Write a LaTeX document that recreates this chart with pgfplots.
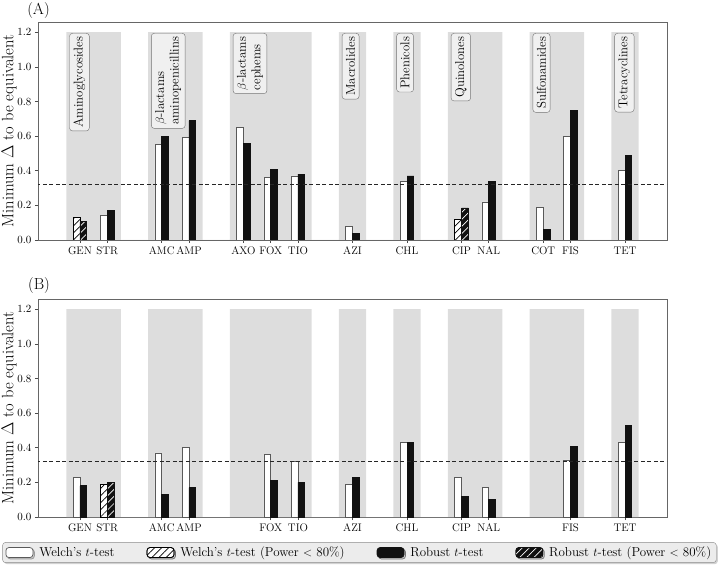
\documentclass[border=0pt]{standalone}
\usepackage{pgfplots}
\pgfplotsset{compat=1.18}
\usetikzlibrary{patterns.meta,shadows}

\definecolor{band}{RGB}{221,221,221}
\definecolor{barblack}{RGB}{17,17,17}
\definecolor{boxfill}{RGB}{240,240,240}

\tikzset{grp/.style={rotate=90, anchor=north east, draw=black!55, fill=boxfill,
    rounded corners=3pt, inner xsep=3.5pt, inner ysep=4pt, font=\fontsize{12.8}{14.5}\selectfont, align=left}}

\pgfplotsset{
  panel/.style={
    scale only axis, width=629pt, height=218pt,
    xmin=-1.54, xmax=21.54, ymin=0, ymax=1.259,
    ytick={0,0.2,0.4,0.6,0.8,1.0,1.2},
    yticklabel style={/pgf/number format/fixed,
      /pgf/number format/fixed zerofill,
      /pgf/number format/precision=1},
    tick label style={font=\fontsize{11}{13}\selectfont},
    tick pos=left, tick align=outside, major tick length=3pt,
    every tick/.style={black!70, line width=0.6pt},
    axis line style={black!60, line width=0.8pt},
    ylabel={Minimum $\Delta$ to be equivalent},
    ylabel style={font=\fontsize{16.5}{19}\selectfont, inner sep=0pt,
      at={(axis description cs:-0.0461,0.5)}, anchor=center},
  },
  mybar/.style={ybar, bar width=0.25,
    legend image code/.code={\draw[##1] (0pt,-5pt) rectangle (27pt,5pt);}},
  welch/.style={mybar, bar shift=-0.125, fill=white, draw=black!65, line width=0.7pt},
  welchh/.style={mybar, bar shift=-0.125, fill=white, draw=black, line width=0.7pt,
    postaction={pattern={Lines[angle=45,distance=5pt,line width=0.7pt]}, pattern color=black}},
  robust/.style={mybar, bar shift=0.125, fill=barblack, draw=barblack, line width=0.7pt},
  robusth/.style={mybar, bar shift=0.125, fill=barblack, draw=barblack, line width=0.7pt,
    postaction={pattern={Lines[angle=45,distance=5pt,line width=0.7pt]}, pattern color=white}},
  bands/.style={fill=band, draw=none, forget plot},
  thr/.style={black!85, line width=1pt, dash pattern=on 4pt off 2.5pt, forget plot},
}

\begin{document}
\begin{tikzpicture}
\path[use as bounding box] (0pt,0pt) rectangle (720pt,568pt);

% ---------- (A) ----------
\begin{axis}[panel, at={(38pt,328pt)}, anchor=south west,
  xtick={0,1,3,4,6,7,8,10,12,14,15,17,18,20},
  xticklabels={GEN,STR,AMC,AMP,AXO,FOX,TIO,AZI,CHL,CIP,NAL,COT,FIS,TET}]
\addplot[bands] coordinates {(-0.5,0) (-0.5,1.2) (1.5,1.2) (1.5,0) (2.5,0) (2.5,1.2) (4.5,1.2) (4.5,0)
  (5.5,0) (5.5,1.2) (8.5,1.2) (8.5,0) (9.5,0) (9.5,1.2) (10.5,1.2) (10.5,0)
  (11.5,0) (11.5,1.2) (12.5,1.2) (12.5,0) (13.5,0) (13.5,1.2) (15.5,1.2) (15.5,0)
  (16.5,0) (16.5,1.2) (18.5,1.2) (18.5,0) (19.5,0) (19.5,1.2) (20.5,1.2) (20.5,0)} \closedcycle;
\addplot[welch] coordinates {(1,0.14) (3,0.55) (4,0.59) (6,0.65) (7,0.36) (8,0.37) (10,0.08)
  (12,0.34) (15,0.22) (17,0.19) (18,0.60) (20,0.40)};
\addplot[welchh] coordinates {(0,0.13) (14,0.12)};
\addplot[robust] coordinates {(1,0.17) (3,0.60) (4,0.69) (6,0.56) (7,0.41) (8,0.38) (10,0.04)
  (12,0.37) (15,0.34) (17,0.06) (18,0.75) (20,0.49)};
\addplot[robusth] coordinates {(0,0.105) (14,0.185)};
\addplot[thr] coordinates {(-1.6,0.32) (21.6,0.32)};
\node[grp] at (axis cs:-0.39,1.195) {Aminoglycosides};
\node[grp] at (axis cs:2.61,1.195) {$\beta$-lactams\\aminopenicillins};
\node[grp] at (axis cs:5.61,1.195) {$\beta$-lactams\\cephems};
\node[grp] at (axis cs:9.61,1.195) {Macrolides};
\node[grp] at (axis cs:11.61,1.195) {Phenicols};
\node[grp] at (axis cs:13.61,1.195) {Quinolones};
\node[grp] at (axis cs:16.61,1.195) {Sulfonamides};
\node[grp] at (axis cs:19.61,1.195) {Tetracyclines};
\end{axis}

% ---------- (B) ----------
\begin{axis}[panel, at={(38pt,51pt)}, anchor=south west,
  xtick={0,1,3,4,7,8,10,12,14,15,18,20},
  xticklabels={GEN,STR,AMC,AMP,FOX,TIO,AZI,CHL,CIP,NAL,FIS,TET},
  legend columns=4,
  legend style={at={(0.511,-0.163)}, anchor=center,
    draw=black!45, fill=gray!15, rounded corners=3pt,
    drop shadow={shadow xshift=1.5pt, shadow yshift=-1.5pt, fill=black!35},
    font=\fontsize{13}{15}\selectfont, inner xsep=3pt, inner ysep=2.5pt,
    /tikz/every even column/.append style={column sep=30pt},
    /tikz/every odd column/.append style={column sep=4pt}}]
\addplot[bands] coordinates {(-0.5,0) (-0.5,1.2) (1.5,1.2) (1.5,0) (2.5,0) (2.5,1.2) (4.5,1.2) (4.5,0)
  (5.5,0) (5.5,1.2) (8.5,1.2) (8.5,0) (9.5,0) (9.5,1.2) (10.5,1.2) (10.5,0)
  (11.5,0) (11.5,1.2) (12.5,1.2) (12.5,0) (13.5,0) (13.5,1.2) (15.5,1.2) (15.5,0)
  (16.5,0) (16.5,1.2) (18.5,1.2) (18.5,0) (19.5,0) (19.5,1.2) (20.5,1.2) (20.5,0)} \closedcycle;
\addplot[welch] coordinates {(0,0.23) (3,0.37) (4,0.40) (7,0.36) (8,0.32) (10,0.19) (12,0.43)
  (14,0.23) (15,0.17) (18,0.33) (20,0.43)};
\addlegendentry{Welch's $t$-test}
\addplot[welchh] coordinates {(1,0.19)};
\addlegendentry{Welch's $t$-test (Power $<$ 80\%)}
\addplot[robust] coordinates {(0,0.18) (3,0.13) (4,0.17) (7,0.21) (8,0.20) (10,0.23) (12,0.43)
  (14,0.12) (15,0.10) (18,0.41) (20,0.53)};
\addlegendentry{Robust $t$-test}
\addplot[robusth] coordinates {(1,0.20)};
\addlegendentry{Robust $t$-test (Power $<$ 80\%)}
\addplot[thr] coordinates {(-1.6,0.32) (21.6,0.32)};
\end{axis}

\node[font=\fontsize{16}{19}\selectfont] at (38.5pt,557pt) {(A)};
\node[font=\fontsize{16}{19}\selectfont] at (39pt,282pt) {(B)};
\end{tikzpicture}
\end{document}
